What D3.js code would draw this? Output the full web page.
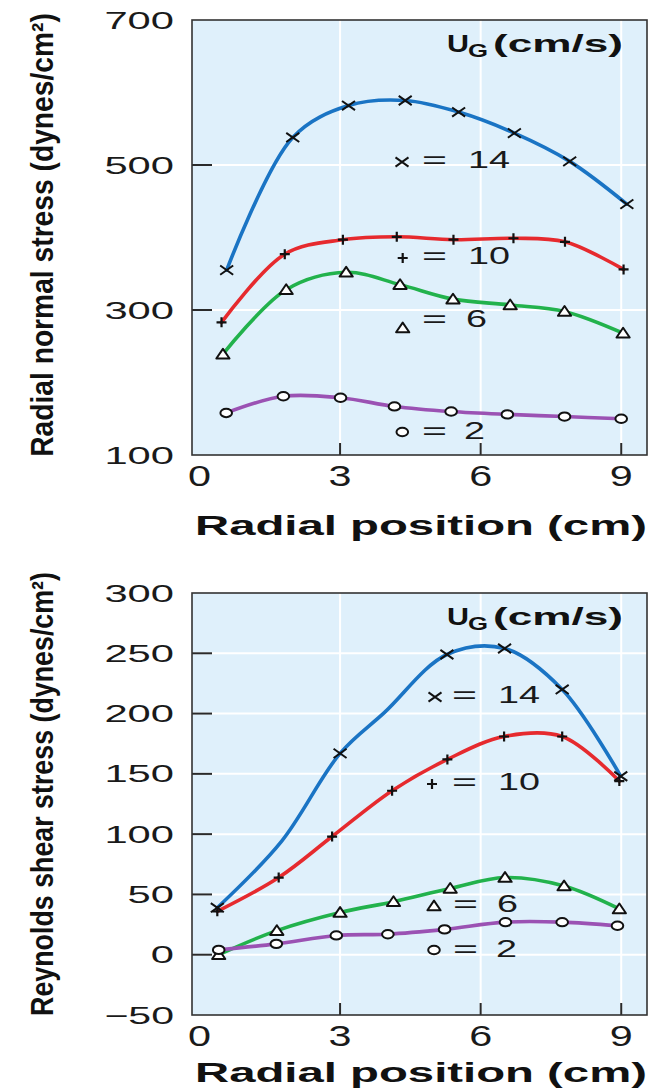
<!DOCTYPE html>
<html>
<head>
<meta charset="utf-8">
<script src="https://cdn.jsdelivr.net/npm/d3@7"></script>
<style>
  body { margin: 0; background: #ffffff; }
  svg { display: block; }
</style>
</head>
<body>
<svg id="fig" width="649" height="1092"></svg>
<script>
// ---- axis ticks ----
const xTickValues = [0, 3, 6, 9];
const normalTickValues = [100, 300, 500, 700];
const shearTickValues = [-50, 0, 50, 100, 150, 200, 250, 300];
const gasVelocities = [14, 10, 6, 2];          // U_G (cm/s)
const markerTypes = ["cross", "plus", "triangle", "circle"];

// ---- radial normal stress (dynes/cm²) ----
const normalX14 = [0.58, 1.99, 3.18, 4.39, 5.53, 6.72, 7.90, 9.12];
const normalY14 = [355, 538, 582, 589, 573, 544, 505, 446];
const normalX10 = [0.47, 1.82, 3.06, 4.21, 5.42, 6.70, 7.80, 9.05];
const normalY10 = [283, 377, 397, 401, 397, 399, 394, 356];
const normalX6 = [0.50, 1.85, 3.13, 4.28, 5.41, 6.63, 7.79, 9.04];
const normalY6 = [239, 328, 352, 335, 315, 307, 298, 268];
const normalX2 = [0.57, 1.79, 3.01, 4.16, 5.37, 6.57, 7.79, 9.00];
const normalY2 = [158, 181, 179, 167, 160, 156, 153, 150];

// ---- Reynolds shear stress (dynes/cm²) ----
// the 14 cm/s curve passes through two unmarked points (indices 1 and 3)
const shearX14 = [0.38, 1.75, 3.00, 3.95, 5.28, 6.51, 7.74, 8.99];
const shearY14 = [39, 94, 167, 201, 249, 254, 220, 148];
const shearMarked14 = [true, false, true, false, true, true, true, true];
const shearX10 = [0.38, 1.69, 2.83, 4.11, 5.29, 6.50, 7.74, 8.96];
const shearY10 = [36, 64, 98, 136, 162, 181, 181, 144];
const shearX6 = [0.41, 1.65, 3.00, 4.14, 5.35, 6.52, 7.78, 8.96];
const shearY6 = [0, 20, 35, 44, 55, 64, 57, 38];
const shearX2 = [0.41, 1.64, 2.92, 4.02, 5.23, 6.53, 7.74, 8.92];
const shearY2 = [4, 9, 16, 17, 21, 27, 27, 24];

const lineColors = ["#1a74c4", "#e62a2e", "#22b24c", "#9b52b3"];

function buildSeries(xs, ys, marks) {
  return xs.map((x, i) => ({ x, y: ys[i], marked: marks ? marks[i] : true }));
}

const normalSeries = [
  buildSeries(normalX14, normalY14),
  buildSeries(normalX10, normalY10),
  buildSeries(normalX6, normalY6),
  buildSeries(normalX2, normalY2)
];
const shearSeries = [
  buildSeries(shearX14, shearY14, shearMarked14),
  buildSeries(shearX10, shearY10),
  buildSeries(shearX6, shearY6),
  buildSeries(shearX2, shearY2)
];

const svg = d3.select("#fig");
const FONT = "'Liberation Sans', Arial, Helvetica, sans-serif";
const NARROW = "'Liberation Sans Narrow', 'Liberation Sans', Arial, sans-serif";

function drawMarker(g, type, cx, cy) {
  const m = g.append("g").attr("transform", `translate(${cx},${cy})`);
  if (type === "cross") {
    m.append("path").attr("d", "M-6.5,-4.6L6.5,4.6M-6.5,4.6L6.5,-4.6")
      .attr("stroke", "#111").attr("stroke-width", 2).attr("fill", "none");
  } else if (type === "plus") {
    m.append("path").attr("d", "M-5,0H5M0,-5V5")
      .attr("stroke", "#111").attr("stroke-width", 2.2).attr("fill", "none");
  } else if (type === "triangle") {
    m.append("path").attr("d", "M0,-5.4L6.6,4.3L-6.6,4.3Z")
      .attr("stroke", "#111").attr("stroke-width", 2).attr("fill", "#ffffff")
      .attr("stroke-linejoin", "round");
  } else {
    m.append("ellipse").attr("rx", 5.8).attr("ry", 4.2)
      .attr("stroke", "#111").attr("stroke-width", 2).attr("fill", "#ffffff");
  }
}

function drawPanel(cfg) {
  const x = d3.scaleLinear().domain([-0.16, 9.55]).range([192, 647]);
  const y = d3.scaleLinear().domain(cfg.yDomain).range(cfg.yRange);
  const g = svg.append("g");
  const [x0, x1] = x.range();
  const [yb, yt] = y.range();

  // plot background
  g.append("rect").attr("x", x0).attr("y", yt).attr("width", x1 - x0).attr("height", yb - yt)
    .attr("fill", "#dff0fb");

  const inner = cfg.ticks.filter(t => t !== cfg.yDomain[0] && t !== cfg.yDomain[1]);

  // white grid lines
  g.append("g").selectAll("line").data(inner).join("line")
    .attr("x1", x0).attr("x2", x1).attr("y1", d => y(d)).attr("y2", d => y(d))
    .attr("stroke", "#ffffff").attr("stroke-width", 2);
  g.append("g").selectAll("line").data(xTickValues.filter(v => v > 0)).join("line")
    .attr("x1", d => x(d)).attr("x2", d => x(d)).attr("y1", yt).attr("y2", yb)
    .attr("stroke", "#ffffff").attr("stroke-width", 2);

  // inward tick marks
  g.append("g").selectAll("line").data(inner).join("line")
    .attr("x1", x0).attr("x2", x0 + 20).attr("y1", d => y(d)).attr("y2", d => y(d))
    .attr("stroke", "#2a2a2a").attr("stroke-width", 2);
  g.append("g").selectAll("line").data(xTickValues.filter(v => v > 0)).join("line")
    .attr("x1", d => x(d)).attr("x2", d => x(d)).attr("y1", yb).attr("y2", yb - 12)
    .attr("stroke", "#2a2a2a").attr("stroke-width", 2);

  // frame
  g.append("rect").attr("x", x0).attr("y", yt).attr("width", x1 - x0).attr("height", yb - yt)
    .attr("fill", "none").attr("stroke", "#333333").attr("stroke-width", 1.6);

  // y tick labels
  g.append("g").selectAll("text").data(cfg.ticks).join("text")
    .attr("x", 174).attr("y", d => y(d) + 8.5)
    .attr("text-anchor", "end")
    .attr("font-family", FONT).attr("font-size", 24).attr("fill", "#1a1a1a")
    .attr("textLength", d => String(d).length * 23.2)
    .attr("lengthAdjust", "spacingAndGlyphs")
    .text(d => d < 0 ? "\u2212" + Math.abs(d) : String(d));

  // x tick labels
  g.append("g").selectAll("text").data(xTickValues).join("text")
    .attr("x", d => x(d)).attr("y", yb + cfg.xLabelDy)
    .attr("text-anchor", "middle")
    .attr("font-family", FONT).attr("font-size", 29).attr("fill", "#1a1a1a")
    .attr("textLength", 23).attr("lengthAdjust", "spacingAndGlyphs")
    .text(d => d);

  // x axis title
  g.append("text")
    .attr("x", 195).attr("y", cfg.xTitleY)
    .attr("font-family", FONT).attr("font-weight", "bold").attr("font-size", 27)
    .attr("fill", "#111")
    .attr("textLength", 452).attr("lengthAdjust", "spacingAndGlyphs")
    .text("Radial position (cm)");

  // y axis title: rotated, then condensed along its length to fit the axis height
  const yTitle = g.append("text")
    .attr("text-anchor", "middle")
    .attr("font-family", NARROW).attr("font-weight", "bold").attr("font-size", 31)
    .attr("fill", "#111")
    .text(cfg.yTitle + " (dynes/cm\u00B2)");
  const natural = yTitle.node().getComputedTextLength();
  const squeeze = 444 / natural;
  yTitle.attr("transform", `translate(53,${cfg.yTitleCenter}) rotate(-90) scale(${squeeze},1)`);

  // curves
  const line = d3.line().x(d => x(d.x)).y(d => y(d.y)).curve(d3.curveCatmullRom.alpha(0.5));
  cfg.series.forEach((s, i) => {
    g.append("path").datum(s).attr("d", line)
      .attr("fill", "none").attr("stroke", lineColors[i]).attr("stroke-width", 3.6)
      .attr("stroke-linecap", "round");
  });
  // markers on top
  cfg.series.forEach((s, i) => {
    s.filter(d => d.marked).forEach(d => drawMarker(g, markerTypes[i], x(d.x), y(d.y)));
  });

  // legend
  const L = cfg.legend;
  const head = g.append("g").attr("font-family", FONT).attr("font-weight", "bold").attr("fill", "#111");
  head.append("text").attr("x", L.headX).attr("y", L.headY).attr("font-size", 23)
    .attr("textLength", 22).attr("lengthAdjust", "spacingAndGlyphs").text("U");
  head.append("text").attr("x", L.headX + 21).attr("y", L.headY + 5).attr("font-size", 19)
    .attr("textLength", 20).attr("lengthAdjust", "spacingAndGlyphs").text("G");
  head.append("text").attr("x", L.headX + 46).attr("y", L.headY).attr("font-size", 23)
    .attr("textLength", 130).attr("lengthAdjust", "spacingAndGlyphs").text("(cm/s)");

  gasVelocities.forEach((v, i) => {
    const row = L.rows[i];
    drawMarker(g, markerTypes[i], row.mx, row.my);
    g.append("text").attr("x", row.eqX).attr("y", row.base)
      .attr("font-family", FONT).attr("font-size", 24).attr("fill", "#1a1a1a")
      .attr("textLength", 25).attr("lengthAdjust", "spacingAndGlyphs").text("=");
    g.append("text").attr("x", row.numEnd).attr("y", row.base).attr("text-anchor", "end")
      .attr("font-family", FONT).attr("font-size", 24).attr("fill", "#1a1a1a")
      .attr("textLength", String(v).length * 21).attr("lengthAdjust", "spacingAndGlyphs")
      .text(v);
  });
}

drawPanel({
  yDomain: [100, 700], yRange: [455, 20], ticks: normalTickValues,
  series: normalSeries,
  yTitle: "Radial normal stress", yTitleCenter: 235,
  xLabelDy: 31, xTitleY: 535,
  legend: {
    headX: 447, headY: 52,
    rows: [
      { mx: 402, my: 162, eqX: 422, numEnd: 510, base: 168 },
      { mx: 402.7, my: 258, eqX: 422, numEnd: 510, base: 264 },
      { mx: 402.7, my: 328, eqX: 422, numEnd: 487, base: 327 },
      { mx: 402.3, my: 432, eqX: 422, numEnd: 485, base: 439 }
    ]
  }
});

drawPanel({
  yDomain: [-50, 300], yRange: [1015, 593], ticks: shearTickValues,
  series: shearSeries,
  yTitle: "Reynolds shear stress", yTitleCenter: 794,
  xLabelDy: 31, xTitleY: 1082,
  legend: {
    headX: 447, headY: 625,
    rows: [
      { mx: 435, my: 697, eqX: 452, numEnd: 540, base: 703 },
      { mx: 432, my: 784, eqX: 452, numEnd: 540, base: 790 },
      { mx: 434, my: 906, eqX: 453, numEnd: 518, base: 912 },
      { mx: 434, my: 950, eqX: 453, numEnd: 517, base: 957 }
    ]
  }
});
</script>
</body>
</html>
